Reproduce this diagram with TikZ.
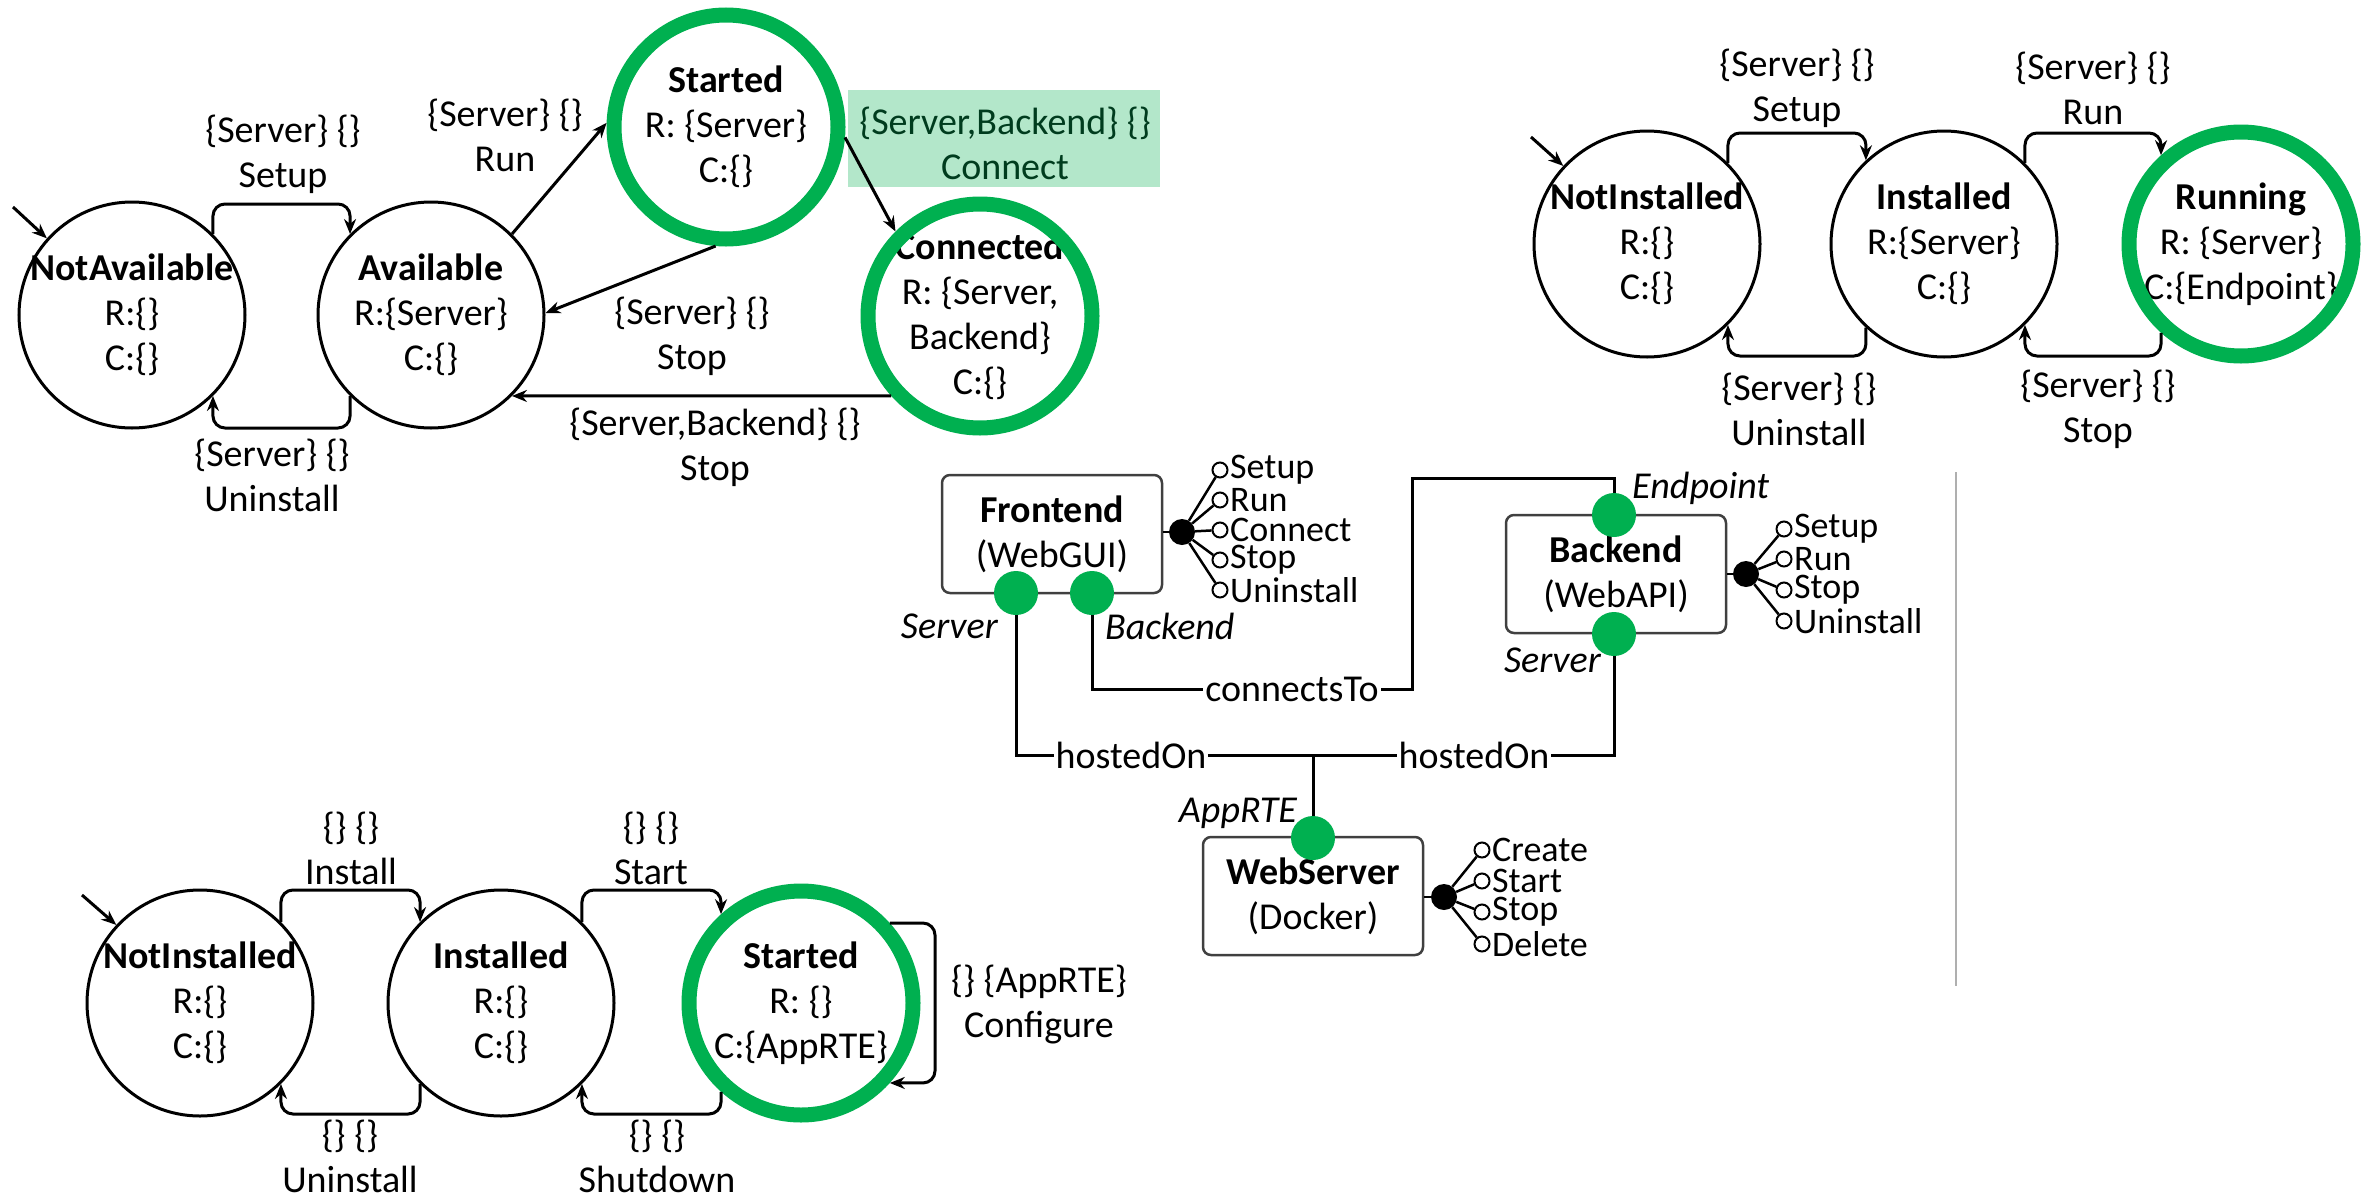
\documentclass[tikz,border=0pt]{standalone}
\usepackage{fontspec}
\setmainfont{Carlito}
\usetikzlibrary{arrows.meta}
\definecolor{okgreen}{RGB}{0,176,80}
\definecolor{hlgreen}{RGB}{179,231,202}
\definecolor{darkgreen}{RGB}{0,60,30}
\definecolor{boxgray}{RGB}{64,64,64}
\definecolor{sepgray}{RGB}{175,175,175}

\begin{document}
\begin{tikzpicture}[x=1pt,y=-1pt,
  font=\fontsize{38}{45}\selectfont,
  state/.style={circle,draw,line width=3pt,minimum size=226pt,inner sep=0pt},
  accept/.style={circle,draw=okgreen,line width=15pt,minimum size=224pt,inner sep=0pt},
  stext/.style={align=center,inner sep=0pt},
  trans/.style={line width=3pt,rounded corners=12pt,-{Stealth[length=15pt,width=12pt]}},
  tlabel/.style={align=center,inner sep=0pt},
  hlbox/.style={fill=hlgreen,minimum width=312pt,minimum height=97pt,inner sep=0pt},
  comp/.style={draw=boxgray,line width=2.5pt,rounded corners=8pt,minimum width=220pt,minimum height=118pt,align=center,inner sep=0pt},
  port/.style={circle,fill=okgreen,minimum size=44pt,inner sep=0pt},
  plabel/.style={font=\fontsize{38}{45}\selectfont\itshape,inner sep=0pt},
  wire/.style={line width=3pt},
  hub/.style={circle,fill=black,minimum size=26pt,inner sep=0pt},
  op/.style={circle,draw,line width=2pt,fill=white,minimum size=15pt,inner sep=0pt},
  opline/.style={line width=2.5pt},
  oplabel/.style={anchor=west,inner sep=1.5pt,font=\fontsize{36}{40}\selectfont},
  rel/.style={fill=white,inner sep=2pt},
]
\useasboundingbox (0,0) rectangle (2374,1202);

% ---------- Server life cycle (top left) ----------
\node[hlbox] (cbox) at (1004,138) {};
\node[tlabel,text=darkgreen] at (1005,143) {\{Server,Backend\} \{\}\\Connect};

\node[state] (na) at (132,315) {};
\node[stext] at (na) {\textbf{NotAvailable}\\R:\{\}\\C:\{\}};
\node[state] (av) at (431,315) {};
\node[stext] at (av) {\textbf{Available}\\R:\{Server\}\\C:\{\}};
\node[stext] at (726,127) {\textbf{Started}\\R: \{Server\}\\C:\{\}};
\node[accept] (st1) at (726,127) {};
\node[stext] at (980,316) {\textbf{Connected}\\R: \{Server,\\Backend\}\\C:\{\}};
\node[accept] (co) at (980,316) {};

\coordinate (i1) at (13,207);
\draw[trans] (i1) -- (na.138);
\coordinate (tltop) at (0,204);
\coordinate (tlbot) at (0,428);
\draw[trans] (na.45) -- (na.45 |- tltop) -- (av.135 |- tltop) -- (av.135);
\draw[trans] (av.225) -- (av.225 |- tlbot) -- (na.-45 |- tlbot) -- (na.-45);
\draw[trans] (av.45) -- (st1.178);
\draw[trans] (st1.265) -- (av.1);
\draw[trans] (st1.-5) -- (co.135);
\draw[trans] (co.222) -- (av.-45);

\node[tlabel] at (283,154) {\{Server\} \{\}\\Setup};
\node[tlabel] at (272,475) {\{Server\} \{\}\\Uninstall};
\node[tlabel] at (505,135) {\{Server\} \{\}\\Run};
\node[tlabel] at (692,336) {\{Server\} \{\}\\Stop};
\node[tlabel] at (715,447) {\{Server,Backend\} \{\}\\Stop};

% ---------- Backend life cycle (top right) ----------
\node[state] (ni2) at (1647,244) {};
\node[stext] at (ni2) {\textbf{NotInstalled}\\R:\{\}\\C:\{\}};
\node[state] (in2) at (1944,244) {};
\node[stext] at (in2) {\textbf{Installed}\\R:\{Server\}\\C:\{\}};
\node[stext] at (2241,244) {\textbf{Running}\\R: \{Server\}\\C:\{Endpoint\}};
\node[accept] (ru) at (2241,244) {};

\coordinate (i2) at (1531,137);
\draw[trans] (i2) -- (ni2.137);
\coordinate (trtop) at (0,133);
\coordinate (trbot) at (0,356);
\draw[trans] (ni2.45) -- (ni2.45 |- trtop) -- (in2.133 |- trtop) -- (in2.133);
\draw[trans] (in2.45) -- (in2.45 |- trtop) -- (ru.132 |- trtop) -- (ru.132);
\draw[trans] (in2.227) -- (in2.227 |- trbot) -- (ni2.-45 |- trbot) -- (ni2.-45);
\draw[trans] (ru.228) -- (ru.228 |- trbot) -- (in2.-45 |- trbot) -- (in2.-45);

\node[tlabel] at (1797,88) {\{Server\} \{\}\\Setup};
\node[tlabel] at (2093,88) {\{Server\} \{\}\\Run};
\node[tlabel] at (1799,409) {\{Server\} \{\}\\Uninstall};
\node[tlabel] at (2098,409) {\{Server\} \{\}\\Stop};

% ---------- WebServer life cycle (bottom left) ----------
\node[state] (ni3) at (200,1003) {};
\node[stext] at (ni3) {\textbf{NotInstalled}\\R:\{\}\\C:\{\}};
\node[state] (in3) at (501,1003) {};
\node[stext] at (in3) {\textbf{Installed}\\R:\{\}\\C:\{\}};
\node[stext] at (801,1003) {\textbf{Started}\\R: \{\}\\C:\{AppRTE\}};
\node[accept] (sd) at (801,1003) {};

\coordinate (i3) at (82,895);
\draw[trans] (i3) -- (ni3.137);
\coordinate (bltop) at (0,890);
\coordinate (blbot) at (0,1114);
\coordinate (loopx) at (935,0);
\draw[trans] (ni3.45) -- (ni3.45 |- bltop) -- (in3.135 |- bltop) -- (in3.135);
\draw[trans] (in3.45) -- (in3.45 |- bltop) -- (sd.132 |- bltop) -- (sd.132);
\draw[trans] (in3.225) -- (in3.225 |- blbot) -- (ni3.-45 |- blbot) -- (ni3.-45);
\draw[trans] (sd.228) -- (sd.228 |- blbot) -- (in3.-45 |- blbot) -- (in3.-45);
\draw[trans] (sd.42) -- (sd.42 -| loopx) -- (sd.-42 -| loopx) -- (sd.-42);

\node[tlabel] at (351,848) {\{\} \{\}\\Install};
\node[tlabel] at (651,848) {\{\} \{\}\\Start};
\node[tlabel] at (350,1156) {\{\} \{\}\\Uninstall};
\node[tlabel] at (657,1156) {\{\} \{\}\\Shutdown};
\node[tlabel] at (1039,1005) {\{\} \{AppRTE\}\\Configure};

% ---------- Component topology (middle) ----------
\node[comp] (fe) at (1052,534) {\textbf{Frontend}\\(WebGUI)};
\node[comp] (be) at (1616,574) {\textbf{Backend}\\(WebAPI)};
\node[comp] (ws) at (1313,896) {\textbf{WebServer}\\(Docker)};

\node[port] (fes) at (1016,593) {};
\node[port] (feb) at (1092,593) {};
\node[port] (bee) at (1614,515) {};
\node[port] (bes) at (1614,634) {};
\node[port] (wsa) at (1313,838) {};

\node[plabel,anchor=east] at (998,626) {Server};
\node[plabel,anchor=west] at (1105,626) {Backend};
\node[plabel,anchor=west] at (1632,488) {Endpoint};
\node[plabel,anchor=east] at (1601,660) {Server};
\node[plabel,anchor=east] at (1297,813) {AppRTE};

\coordinate (ct1) at (1412,689);
\coordinate (ct2) at (1412,478);
\coordinate (junc) at (1313,755);
\draw[wire] (feb) |- (ct1) -- (ct2) -| (bee);
\draw[wire] (fes) |- (junc);
\draw[wire] (bes) |- (junc);
\draw[wire] (junc) -- (wsa);
\node[rel] at (1292,689) {connectsTo};
\node[rel] at (1131,755) {hostedOn};
\node[rel] at (1474,755) {hostedOn};

% provided operations
\node[hub] (feh) at (1182,532) {};
\draw[opline] (feh -| fe.east) -- (feh);
\foreach \k/\yy/\txt in {a/470/Setup,b/500/Run,c/530/Connect,d/560/Stop,e/590/Uninstall}{
  \node[op] (feo\k) at (1220,\yy) {};
  \draw[opline] (feh) -- (feo\k);
  \node[oplabel] at (feo\k.east) {\txt};
}
\node[hub] (beh) at (1746,574) {};
\draw[opline] (beh -| be.east) -- (beh);
\foreach \k/\yy/\txt in {a/529/Setup,b/559/Run,c/590/Stop,d/621/Uninstall}{
  \node[op] (beo\k) at (1784,\yy) {};
  \draw[opline] (beh) -- (beo\k);
  \node[oplabel] at (beo\k.east) {\txt};
}
\node[hub] (wsh) at (1444,897) {};
\draw[opline] (wsh -| ws.east) -- (wsh);
\foreach \k/\yy/\txt in {a/850/Create,b/881/Start,c/912/Stop,d/944/Delete}{
  \node[op] (wso\k) at (1482,\yy) {};
  \draw[opline] (wsh) -- (wso\k);
  \node[oplabel] at (wso\k.east) {\txt};
}

% separator
\coordinate (sepa) at (1956,472);
\coordinate (sepb) at (1956,986);
\draw[sepgray,line width=2pt] (sepa) -- (sepb);
\end{tikzpicture}
\end{document}
